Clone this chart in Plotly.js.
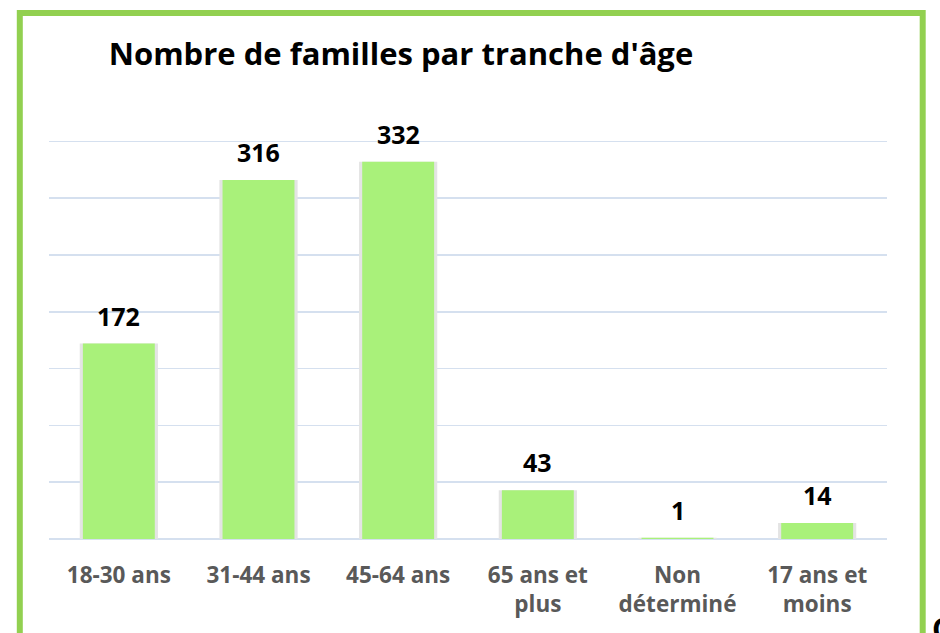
<!DOCTYPE html>
<html>
<head>
<meta charset="utf-8">
<script src="https://cdn.plot.ly/plotly-3.0.1.min.js"></script>
<style>html,body{margin:0;padding:0;background:#fff;overflow:hidden}</style>
</head>
<body>
<div id="chart" style="width:940px;height:633px"></div>
<script>
var categories = ["18-30 ans", "31-44 ans", "45-64 ans", "65 ans et<br>plus", "Non<br>déterminé", "17 ans et<br>moins"];
var values = [172, 316, 332, 43, 1, 14];
var gridValues = [50, 100, 150, 200, 250, 300, 350];
var chartTitle = "Nombre de familles par tranche d'âge";

var FONT = '"Open Sans", sans-serif';

var shadow = {
  type: 'bar', x: categories, y: values, width: 0.56,
  marker: {color: '#e4e4e4'}, hoverinfo: 'skip', showlegend: false
};
var main = {
  type: 'bar', x: categories, y: values, width: 0.515,
  marker: {color: '#a9f17a'}, showlegend: false
};

var annotations = categories.map(function (c, i) {
  return {
    x: c, y: values[i], xref: 'x', yref: 'y', text: String(values[i]),
    showarrow: false, yanchor: 'middle', yshift: 28,
    font: {family: FONT, size: 25, color: '#000', weight: 700}
  };
});
annotations.push({
  xref: 'paper', yref: 'paper', x: (930 - 49) / 838, y: (539 - 606) / 409,
  xanchor: 'left', yanchor: 'top', text: 'C', showarrow: false,
  font: {family: FONT, size: 30, color: '#000', weight: 700}
});

var layout = {
  width: 940, height: 633,
  margin: {l: 49, r: 53, t: 130, b: 94, pad: 0},
  paper_bgcolor: '#fff', plot_bgcolor: '#fff',
  barmode: 'overlay',
  title: {
    text: chartTitle, xref: 'paper', yref: 'container',
    x: (401 - 49) / 838, xanchor: 'center', y: 1 - 54 / 633, yanchor: 'middle',
    font: {family: FONT, size: 31, color: '#000', weight: 700}
  },
  xaxis: {
    showgrid: false, showline: false, zeroline: false, ticks: '',
    tickfont: {family: FONT, size: 22.5, color: '#595959', weight: 700},
    ticklabelstandoff: 20
  },
  yaxis: {
    range: [0, 360], tickvals: gridValues, showticklabels: false, ticks: '',
    showgrid: true, gridcolor: '#d5e0ef', gridwidth: 1.5,
    zeroline: true, zerolinecolor: '#d5e0ef', zerolinewidth: 2, showline: false
  },
  annotations: annotations,
  shapes: [{
    type: 'rect', xref: 'paper', yref: 'paper', layer: 'above',
    x0: (19.8 - 49) / 838, x1: (922.7 - 49) / 838,
    y0: (539 - 660) / 409, y1: (539 - 13) / 409,
    line: {color: '#92d050', width: 6}, fillcolor: 'rgba(0,0,0,0)'
  }]
};

Plotly.newPlot('chart', [shadow, main], layout, {displayModeBar: false, staticPlot: true});
</script>
</body>
</html>
